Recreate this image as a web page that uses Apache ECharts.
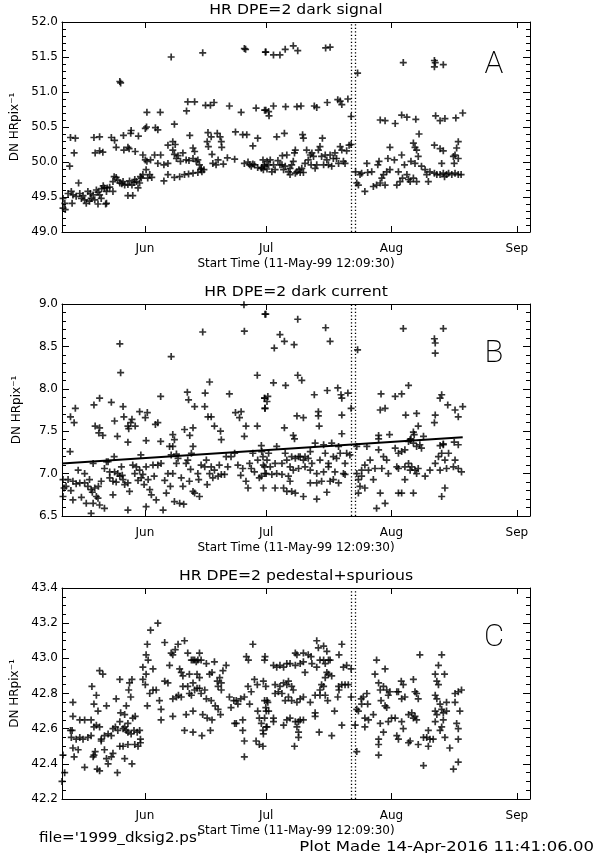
<!DOCTYPE html>
<html><head><meta charset="utf-8">
<script src="https://cdn.jsdelivr.net/npm/echarts@6/dist/echarts.min.js"></script>
<style>html,body{margin:0;padding:0;background:#fff}#c{width:597px;height:853px}</style>
</head><body><div id="c"></div>
<script>
// x values: days since 11-May-99 12:09:30
const monthTicks = [20.494, 50.494, 81.494, 112.494];
const monthLabels = ['Jun', 'Jul', 'Aug', 'Sep'];
const xMax = 115.74;
const gapLines = [71.494, 72.494];
const panelTitles = ['HR DPE=2 dark signal', 'HR DPE=2 dark current', 'HR DPE=2 pedestal+spurious'];
const panelLetters = ['A', 'B', 'C'];
const xTitle = 'Start Time (11-May-99 12:09:30)';
const yTitle = 'DN HRpix\u207B\u00B9';
const yMin = [49.0, 6.5, 42.2];
const yMax = [52.0, 9.0, 43.4];
const yStep = [0.5, 0.5, 0.2];
const yMinorStep = [0.1, 0.1, 0.05];
const footLeft = "file='1999_dksig2.ps'";
const footRight = 'Plot Made 14-Apr-2016 11:41:06.00';

const darkSignal = [
[27.0,51.50],[34.8,51.56],[45.1,51.62],[45.4,51.61],[50.3,51.57],[14.3,51.15],[14.5,51.13],
[21.0,50.71],[24.3,50.71],[30.8,50.73],[31.1,50.86],[32.8,50.86],[35.5,50.81],[36.7,50.81],[37.6,50.85],[41.4,50.80],[44.3,50.71],[48.0,50.77],[50.1,50.74],
[2.1,50.35],[3.3,50.34],[3.0,50.13],[1.9,49.94],[7.9,50.35],[9.3,50.36],[12.2,50.35],[13.0,50.31],[15.2,50.38],[17.1,50.45],[17.0,50.41],[18.9,50.37],[20.6,50.48],[20.9,50.50],[23.1,50.49],[23.7,50.46],[27.8,50.54],[31.6,50.38],[36.1,50.42],[36.9,50.36],[38.4,50.41],[39.1,50.36],[42.9,50.43],[44.7,50.39],[45.7,50.39],[48.4,50.34],[47.2,50.23],
[8.2,50.13],[9.3,50.16],[10.1,50.14],[13.4,50.21],[15.3,50.17],[16.3,50.21],[16.6,50.19],[18.1,50.15],[20.0,50.10],[20.6,50.03],[21.0,50.01],[21.9,50.03],[22.9,50.10],[23.7,49.98],[24.4,50.10],[25.2,49.96],[26.2,49.98],
[26.2,50.24],[27.4,50.29],[28.0,50.25],[27.4,50.17],[27.8,50.11],[28.3,50.05],[28.7,50.09],[29.3,50.01],[29.9,50.13],
[30.7,50.03],[31.4,50.02],[32.4,50.20],[32.8,50.15],[32.4,50.05],[33.2,50.01],[33.6,50.03],[34.0,49.96],[34.4,49.91],[34.6,49.86],[35.1,49.89],
[35.9,50.29],[36.2,50.22],[37.1,50.11],[37.3,49.98],[38.1,49.96],[38.6,50.03],[39.4,50.29],[39.5,50.21],[39.9,49.97],[40.9,50.06],
[42.7,50.04],[45.1,49.98],[46.4,49.96],[46.8,49.94],[47.6,49.96],[48.4,49.92],[49.3,49.91],[50.1,49.96],[50.7,50.01],[46.0,50.00],[47.2,49.97],[49.7,50.03],
[20.8,49.89],[21.7,49.82],[22.2,49.78],[21.2,49.77],[25.2,49.73],[26.2,49.82],[27.8,49.78],[29.1,49.79],[30.3,49.82],[31.3,49.83],[32.4,49.84],[33.6,49.85],[34.4,49.89],
[0.25,49.48],[0.7,49.41],[0.25,49.34],[0.8,49.32],[2.3,49.58],[2.7,49.53],[2.5,49.41],[4.1,49.70],
[3.5,49.51],[4.8,49.48],[5.6,49.46],[6.0,49.41],[7.2,49.48],[7.7,49.53],[8.1,49.46],[8.5,49.60],[8.9,49.57],[9.3,49.53],[9.7,49.48],[10.5,49.63],[11.0,49.58],[11.2,49.63],[11.0,49.41],
[6.8,49.44],[8.9,49.40],[10.8,49.40],
[12.6,49.72],[12.9,49.79],[13.4,49.78],[12.6,49.58],[14.3,49.70],[15.1,49.72],[15.5,49.67],[16.3,49.68],[16.7,49.73],[17.3,49.67],[18.0,49.75],[18.8,49.63],[19.2,49.70],
[16.3,49.52],[17.5,49.52],[19.6,49.77],[20.0,49.82],
[1.5,49.55],[4.4,49.55],[5.2,49.52],[6.4,49.58],[7.0,49.55],[9.8,49.62],[10.2,49.66],[11.8,49.64],[13.8,49.74],[14.8,49.69],[17.8,49.71],[18.4,49.72],[19.4,49.79],
[50.4,51.57],[52.3,51.53],[53.9,51.53],[55.2,51.61],[57.2,51.66],[58.3,51.59],[65.2,51.63],[66.3,51.64],[73.1,51.27],[84.4,51.42],[92.1,51.45],[92.3,51.42],[92.1,51.36],[94.3,51.39],
[50.4,50.74],[51.1,50.72],[51.2,50.66],[52.3,50.80],[55.3,50.79],[58.1,50.79],[59.1,50.80],[62.4,50.80],[63.0,50.78],[65.6,50.85],[68.2,50.89],[68.8,50.87],[69.2,50.82],[70.7,50.90],[71.5,50.65],[78.7,50.60],[79.9,50.59],[82.4,50.55],[84.0,50.67],[85.3,50.64],[87.5,50.61],[92.4,50.66],[93.5,50.59],[94.7,50.62],[97.4,50.63],[99.1,50.70],
[53.1,50.36],[55.0,50.41],[59.5,50.39],[59.7,50.34],[64.4,50.34],[71.5,50.25],[81.1,50.21],[88.3,50.40],[86.9,50.27],[87.3,50.21],[87.7,50.17],[92.1,50.24],[93.5,50.19],[94.3,50.16],[98.0,50.29],[97.6,50.20],
[49.4,49.92],[50.1,49.94],[50.7,49.90],[51.5,50.03],[51.1,49.96],[52.7,49.89],[53.4,50.02],[53.9,49.96],[54.5,50.09],[55.2,49.94],[55.6,50.10],[56.0,49.86],[56.4,49.91],[56.8,49.96],[57.2,50.01],[57.5,50.13],[57.7,50.17],[58.1,49.86],[58.6,49.89],[59.3,49.91],[59.7,49.85],[60.1,49.98],[60.5,50.17],[60.9,50.03],[61.4,50.10],[61.6,49.96],[61.8,50.13],[62.2,50.08],[62.6,49.91],[63.0,49.96],[63.4,50.17],[63.8,50.22],[64.2,50.08],[64.7,49.96],[65.1,50.10],[65.5,50.03],[65.9,49.96],[66.3,50.10],[66.7,49.94],[67.1,50.05],[67.5,50.13],[67.9,50.05],[68.4,49.98],[68.8,50.22],[69.2,50.17],[69.6,50.01],[70.0,49.98],[70.4,50.16],[71.0,50.24],
[49.8,49.89],[51.9,49.86],[54.8,49.89],[56.4,49.82],[57.7,49.84],[58.9,49.85],[54.4,49.96],[52.3,49.96],
[72.6,49.86],[72.9,49.70],[73.3,49.67],[73.7,49.82],[74.1,49.84],[74.9,49.58],[75.4,49.98],[75.6,49.85],[76.6,49.86],[77.0,49.65],[77.8,49.67],[78.1,49.96],[78.4,50.01],[78.7,49.70],[79.1,49.77],[79.5,49.82],[79.9,49.67],[80.3,49.86],[80.6,50.05],[81.1,49.89],[82.2,50.03],[82.8,49.67],[83.2,49.86],[83.6,49.72],[84.0,50.10],[84.2,49.77],[84.7,49.96],[85.3,49.82],[85.7,49.75],[86.1,49.72],[86.3,50.01],[86.9,49.77],[87.3,49.98],[87.7,49.72],[88.1,50.08],[88.9,49.94],[89.8,49.89],[90.2,49.82],[90.6,49.72],[91.0,49.86],[92.1,49.84],[92.7,49.82],[93.5,49.82],[93.9,49.98],[94.3,49.84],[94.6,49.79],[95.1,49.82],[95.6,49.84],[96.4,49.82],[97.2,49.84],[98.0,49.82],[98.7,49.82],[96.8,50.08],[97.2,50.10],[98.0,50.05],[97.0,49.98]
];

const darkCurrent = [
[14.3,8.53],[14.5,8.19],[27.0,8.38],[34.8,8.67],[45.1,8.68],[45.0,8.99],[50.2,8.88],[48.3,8.16],[36.5,8.08],[35.4,7.95],[41.4,7.94],[31.0,7.96],[31.3,7.87],[32.8,7.79],[35.3,7.79],[24.4,7.91],
[3.3,7.77],[2.1,7.67],[3.0,7.60],[7.9,7.81],[9.3,7.89],[12.2,7.84],[15.1,7.79],
[15.3,7.67],[16.3,7.56],[17.0,7.60],[17.3,7.64],[18.1,7.56],[19.2,7.73],[21.1,7.72],[20.6,7.66],
[8.2,7.56],[9.3,7.54],[9.1,7.48],[10.1,7.45],[13.0,7.62],[13.7,7.44],
[16.3,7.37],[16.5,7.53],[20.8,7.39],[23.1,7.58],[23.7,7.60],[24.4,7.38],
[27.4,7.46],[27.8,7.40],[27.4,7.32],[30.3,7.52],[32.4,7.54],[31.6,7.45],
[36.1,7.67],[36.9,7.67],[37.7,7.56],[39.2,7.50],[39.4,7.40],
[42.9,7.72],[43.9,7.66],[44.3,7.73],[45.5,7.56],[48.3,7.56],[45.1,7.44],[50.1,7.89],[50.2,7.77],[49.3,7.33],
[2.0,7.26],[32.4,7.32],[32.0,7.24],[26.6,7.32],[27.0,7.22],[28.3,7.23],
[0.25,6.93],[0.5,6.83],[0.25,6.73],[1.5,6.93],[2.7,6.91],[2.7,6.69],[4.0,7.04],[4.4,6.89],[5.6,7.00],[5.6,6.89],[6.0,6.65],[6.8,6.93],[7.2,6.81],[7.2,6.53],[8.1,6.83],[8.5,6.73],[8.9,6.71],[9.3,6.63],[7.7,6.65],[9.7,6.91],[10.5,7.06],[10.5,6.59],[11.0,7.14],[11.4,7.14],[11.8,7.02],[12.6,6.91],[12.6,6.75],[13.0,7.02],[13.8,7.00],[14.3,6.97],[14.7,7.08],[15.1,6.93],[15.5,6.87],[16.3,6.89],[16.3,6.57],[16.7,6.79],[17.5,7.10],[18.0,7.00],[18.4,7.08],[19.2,7.04],[19.6,6.95],[20.0,6.99],[20.3,6.87],[20.8,7.08],[21.3,6.93],[21.7,6.81],[20.8,6.61],[22.1,6.75],[22.5,7.10],[23.3,6.69],[23.7,7.10],[24.5,7.12],[25.0,6.57],[25.8,6.77],[26.2,7.00],[27.4,7.00],[27.8,6.67],[28.3,7.12],[28.7,7.18],[29.1,6.65],[29.9,6.85],[30.1,6.64],[30.7,7.12],[31.1,7.16],[31.5,6.91],[32.4,6.79],[32.8,6.77],[33.6,7.00],[33.8,6.93],[34.0,6.73],[34.4,7.10],[35.3,7.08],[35.7,7.16],[35.9,6.87],[36.5,7.00],[36.9,7.08],[37.7,7.04],[38.6,6.97],[39.4,6.99],[40.2,6.99],[41.0,7.08],[41.8,7.20],[42.7,7.24],[44.7,7.06],[45.5,6.91],[46.0,6.83],[46.8,7.06],[47.6,7.02],[48.4,7.16],[49.7,7.20],[50.1,7.08],[49.3,6.97],[47.2,7.24],[50.5,7.00],
[1.0,6.85],[2.2,6.80],[3.5,6.88],[4.8,6.72],[6.4,6.85],[7.5,6.78],[9.0,6.85],[11.8,6.95],[13.4,6.90],[14.9,6.98],[18.8,6.92],[22.8,6.97],[25.4,6.92],[26.8,6.85],[29.5,6.95],[31.8,7.05],[37.3,6.95],[38.9,7.10],[40.6,7.20],[43.5,7.10],[44.2,6.98],[46.4,7.12],[48.8,6.95],[7.7,7.12],[12.9,7.20],[19.5,7.22],
[50.4,8.88],[58.3,8.82],[65.2,8.72],[53.9,8.64],[55.0,8.56],[52.5,8.48],[57.4,8.52],[66.3,8.56],[73.1,8.46],[84.4,8.71],[94.3,8.71],[92.1,8.59],[92.3,8.54],[92.3,8.42],
[58.3,8.16],[59.3,8.10],[52.3,8.07],[55.3,8.04],[50.1,7.89],[50.9,7.91],[50.7,7.85],[50.2,7.77],[85.7,8.04],
[65.6,7.98],[68.2,8.01],[69.0,7.93],[69.2,7.89],[70.7,7.95],[62.4,7.93],[78.9,7.94],[82.4,7.91],[84.0,7.94],[78.7,7.75],[79.9,7.77],
[93.9,7.93],[93.5,7.89],[95.4,7.81],[97.2,7.75],[99.1,7.79],[98.0,7.67],[71.5,7.77],
[58.1,7.68],[59.7,7.66],[63.4,7.73],[63.4,7.68],[69.2,7.69],[63.6,7.56],
[85.0,7.69],[87.7,7.71],[88.1,7.56],[92.3,7.69],[92.1,7.60],
[55.0,7.54],[57.2,7.45],[57.5,7.41],[69.2,7.47],[78.3,7.45],[78.3,7.41],[81.0,7.46],
[86.9,7.49],[87.1,7.46],[89.4,7.44],[86.3,7.41],[97.0,7.37],[98.0,7.34],[94.3,7.35],[93.5,7.33],
[49.4,7.26],[51.1,7.24],[53.1,7.32],[55.2,7.24],[56.8,7.20],[58.5,7.20],[60.1,7.20],[61.4,7.26],[62.6,7.36],[64.7,7.34],[66.7,7.36],[68.4,7.32],[70.4,7.24],[71.2,7.22],[49.8,7.10],[50.7,7.16],[51.5,7.08],[52.7,7.12],[54.4,7.12],[55.6,7.16],[56.4,7.08],[57.7,7.18],[58.9,7.20],[59.7,7.16],[60.9,7.18],[61.8,7.12],[63.8,7.16],[65.1,7.24],[65.9,7.12],[67.1,7.20],[67.9,7.18],[68.8,7.24],[70.0,7.12],[50.2,7.00],[51.9,6.99],[53.1,7.00],[54.4,6.99],[56.0,6.97],[57.2,7.04],[58.5,7.06],[60.1,7.08],[61.4,7.04],[63.0,7.00],[64.7,7.02],[65.9,7.08],[67.5,7.02],[69.6,7.00],[52.7,6.83],[54.8,6.83],[56.4,6.91],[56.8,6.79],[57.7,6.77],[59.7,6.73],[61.4,6.89],[63.0,6.89],[63.0,6.70],[64.2,6.91],[65.5,6.78],[66.3,6.91],[67.1,6.93],[68.4,6.89],[70.0,6.99],[49.8,6.83],[55.6,6.79],
[72.9,7.32],[75.4,7.32],[72.9,7.00],[73.3,6.93],[74.1,7.04],[74.9,7.10],[73.7,6.85],[74.9,6.83],[76.2,7.16],[77.0,6.93],[78.3,7.28],[78.7,6.77],[77.8,6.59],[79.9,6.65],[79.1,7.06],[80.3,7.16],[80.7,7.00],[82.4,7.30],[82.8,7.08],[83.2,7.24],[84.0,7.26],[84.8,7.28],[85.7,7.38],[86.1,7.40],[86.9,7.36],[87.7,7.32],[88.5,7.34],[88.9,7.30],[83.2,6.77],[84.0,6.77],[84.8,6.93],[86.9,6.77],[85.7,7.12],[86.5,7.08],[87.3,7.04],[88.1,7.06],[89.8,6.97],[91.0,7.04],[92.3,7.12],[93.1,7.20],[93.9,7.24],[94.7,7.16],[95.6,7.24],[96.8,7.08],[97.2,7.16],[98.0,7.06],[98.8,7.02],[94.3,7.34],[93.9,6.73],[94.7,6.83],[93.5,7.04],[95.1,7.06],[86.1,7.04],[87.7,7.00],[84.8,7.08],[83.2,7.06],[79.5,7.20],[77.4,7.06],[75.8,7.04],[74.1,6.97],[73.3,6.77]
];

const pedestal = [
[0.25,42.45],[0.0,42.30],[0.66,42.35],
[2.7,42.75],[2.7,42.67],[2.1,42.59],[2.5,42.59],[2.7,42.49],[3.0,42.44],
[4.4,42.65],[5.6,42.65],[7.2,42.65],[7.4,42.84],[7.9,42.74],[8.5,42.79],[8.9,42.70],[11.0,42.73],[13.4,42.77],[14.3,42.88],[14.5,42.69],[15.5,42.68],[16.7,42.86],[16.5,42.82],[17.0,42.78],[17.3,42.88],[15.9,42.73],[16.3,42.63],[17.5,42.66],[18.1,42.67],
[2.3,42.55],[3.5,42.54],[4.4,42.55],[5.2,42.54],[6.4,42.55],[7.2,42.56],[7.9,42.61],[8.5,42.62],[9.3,42.61],[9.7,42.54],[10.5,42.56],[11.4,42.57],[12.2,42.56],[12.6,42.60],[13.2,42.61],[13.8,42.59],[14.3,42.64],[15.1,42.60],[15.5,42.61],[15.9,42.59],[16.3,42.58],[17.1,42.57],[17.8,42.59],[18.6,42.58],[19.2,42.59],[19.4,42.54],
[4.0,42.48],[5.6,42.38],[7.7,42.44],[7.9,42.45],[8.2,42.47],[8.7,42.37],[9.3,42.36],[9.7,42.53],[10.5,42.48],[11.0,42.43],[11.4,42.40],[12.2,42.44],[12.6,42.46],[13.7,42.35],[14.3,42.50],[15.1,42.50],[15.5,42.43],[16.3,42.51],[17.3,42.40],[18.0,42.51],[18.8,42.50],[19.4,42.52],
[9.3,42.93],[10.1,42.91],
[20.0,42.95],[20.0,42.88],[20.6,42.85],[20.8,42.91],[20.8,43.02],[21.1,43.08],[21.3,42.99],[21.9,43.16],[22.5,42.94],[23.7,43.20],[25.4,43.09],
[21.1,42.73],[21.7,42.80],[22.5,42.82],[23.3,42.82],[24.1,42.76],[24.5,42.71],[24.5,42.65],[25.4,42.87],[26.2,42.86],[26.6,42.96],[27.0,43.03],[27.4,43.02],[28.0,43.05],[28.7,43.08],[29.1,42.94],[29.5,42.92],[29.9,42.90],[30.3,43.10],[31.1,43.03],[31.5,42.91],[32.0,42.99],[32.4,42.99],[32.8,42.99],[33.2,42.98],[33.6,42.99],[34.0,43.03],[34.4,42.99],[33.4,42.91],[34.0,42.89],[35.7,42.97],[36.5,42.91],[37.1,42.92],[37.7,42.98],[38.4,42.87],[39.0,42.89],[39.4,42.86],[39.8,42.93],[40.6,42.96],[38.6,42.84],[39.4,42.82],
[27.4,42.77],[28.3,42.78],[28.8,42.79],[29.5,42.78],[29.9,42.84],[31.1,42.84],[31.5,42.80],[32.0,42.79],[32.4,42.86],[32.8,42.82],[33.4,42.83],[34.0,42.83],[34.4,42.80],[35.3,42.82],[35.7,42.77],[36.9,42.76],[37.9,42.73],[38.6,42.71],[39.2,42.68],
[27.4,42.67],[30.3,42.59],[30.7,42.68],[32.4,42.70],[32.4,42.58],[34.6,42.56],[34.8,42.68],[35.9,42.66],[36.7,42.59],[37.1,42.65],
[41.4,42.78],[41.8,42.72],[43.1,42.76],[43.5,42.74],[42.7,42.63],[43.1,42.63],[44.7,42.65],[44.7,42.59],[45.1,42.53],[45.1,42.44],[45.1,42.78],[46.4,42.74],[46.8,42.81],[46.0,42.84],[45.6,43.01],[46.1,42.99],[47.2,43.08],[47.6,42.88],[48.3,42.85],[48.4,42.70],[48.8,42.66],[49.3,42.63],[49.7,42.59],[48.8,42.51],[50.1,42.99],[50.1,42.76],[50.5,42.70],[50.5,42.61],
[42.5,42.76],[44.2,42.77],[48.0,42.53],
[50.2,43.01],[49.8,42.87],[50.4,42.84],[50.7,42.76],[50.4,42.72],[51.1,42.70],[50.1,42.66],[50.7,42.61],[49.8,42.57],[49.7,42.50],[50.9,42.75],
[52.3,42.96],[53.1,42.95],[53.9,42.96],[54.8,42.95],[55.6,42.97],[56.4,42.97],[57.7,42.96],[58.9,42.97],[59.7,42.98],[57.7,43.03],[58.1,43.02],[59.7,43.03],[60.9,43.02],[61.6,43.01],[63.0,43.10],[63.4,43.06],[64.7,43.07],[65.5,43.04],[63.8,42.99],[64.7,42.99],[65.9,42.99],[66.3,42.99],[69.2,43.08],[68.5,43.02],[69.6,42.95],[70.4,42.96],[71.5,42.94],[60.1,42.92],[61.8,42.97],[63.0,42.95],[65.1,42.97],
[52.7,42.85],[53.9,42.84],[54.8,42.86],[56.0,42.87],[55.6,42.85],[56.8,42.84],[57.2,42.82],[52.7,42.80],[53.5,42.81],[54.4,42.80],[55.2,42.76],[56.0,42.78],[56.8,42.76],[58.1,42.75],[58.9,42.77],[59.7,42.78],[61.4,42.75],[62.6,42.79],[63.8,42.82],[64.2,42.85],[64.7,42.84],[65.1,42.89],[65.5,42.92],[65.9,42.91],[66.7,42.90],[63.8,42.79],[65.1,42.79],[65.7,42.76],[68.4,42.84],[68.5,42.82],[69.2,42.85],[70.0,42.85],[70.8,42.85],[68.2,42.78],[71.5,42.78],
[52.3,42.66],[52.3,42.64],[54.8,42.62],[55.6,42.65],[56.4,42.66],[57.7,42.64],[58.5,42.64],[58.9,42.65],[59.7,42.65],[58.1,42.61],[58.5,42.58],[58.5,42.55],[57.5,42.50],[62.6,42.69],[62.6,42.67],[63.6,42.58],[66.7,42.56],[67.4,42.70],[69.2,42.62],
[72.9,42.71],[73.3,42.70],[72.5,42.62],[72.9,42.47],[74.0,42.77],[74.5,42.78],[75.4,42.80],[74.1,42.74],[75.6,42.74],[74.9,42.66],[75.8,42.65],[74.9,42.61],[77.0,42.68],[77.4,42.91],[77.8,42.99],[78.3,42.86],[78.7,42.82],[78.9,42.76],[79.5,42.84],[79.9,42.94],[80.3,42.82],[80.7,42.79],[81.1,42.81],[79.9,42.73],[80.3,42.72],[80.7,42.64],[78.7,42.63],[78.3,42.54],[78.3,42.51],[78.3,42.45],[79.5,42.58],[81.5,42.66],[82.4,42.66],[82.8,42.56],[83.2,42.54],[82.8,42.81],[83.2,42.81],[83.9,42.87],[84.4,42.85],[84.0,42.77],[84.8,42.78],[86.9,42.88],[87.3,42.81],[87.7,42.80],[88.1,42.77],[85.7,42.68],[86.5,42.69],[86.9,42.66],[87.3,42.67],[87.7,42.65],[84.0,42.64],[84.4,42.60],[85.7,42.52],[86.1,42.53],[88.1,42.51],[89.4,42.55],[90.2,42.55],[90.6,42.59],[90.6,42.50],[91.0,42.54],[91.8,42.54],[92.3,42.79],[92.7,42.77],[93.1,42.85],[93.5,42.74],[93.9,42.71],[94.3,42.69],[95.1,42.70],[94.3,42.65],[93.5,42.59],[93.9,42.61],[94.7,42.55],[95.9,42.49],[92.3,42.70],[92.7,42.68],[88.5,43.02],[93.9,43.02],[93.1,42.96],[92.3,42.91],[92.7,42.87],[94.6,42.91],[97.2,42.80],[98.0,42.81],[98.8,42.82],[97.2,42.75],[98.4,42.70],[97.6,42.63],[98.0,42.60],[98.0,42.54],[89.4,42.39],[96.8,42.37],[98.0,42.41],[92.3,42.64],[95.1,42.75]
];

const currentFit = [[0, 7.12], [99.1, 7.43]];

const panelData = [darkSignal, darkCurrent, pedestal];
const gridBoxes = [
  {left: 62, top: 22, width: 468, height: 210},
  {left: 62, top: 304, width: 468, height: 212},
  {left: 62, top: 588, width: 468, height: 211}
];
const FONT = 'DejaVu Sans';
const plusSymbol = 'path://M5,0V10M0,5H10';

function nearestMonth(v) {
  let best = 0;
  for (let i = 1; i < monthTicks.length; i++) {
    if (Math.abs(monthTicks[i] - v) < Math.abs(monthTicks[best] - v)) best = i;
  }
  return monthLabels[best];
}

const xAxes = [], yAxes = [], series = [], graphics = [];
for (let i = 0; i < 3; i++) {
  ['bottom', 'top'].forEach(function (pos) {
    xAxes.push({
      type: 'value', gridIndex: i, position: pos, min: 0, max: xMax,
      axisLine: {show: true, onZero: false, lineStyle: {color: '#000', width: 1}},
      axisTick: {show: true, inside: true, length: 6, customValues: monthTicks, lineStyle: {color: '#000', width: 1}},
      axisLabel: {show: pos === 'bottom', customValues: monthTicks, formatter: nearestMonth,
        color: '#000', fontFamily: FONT, fontSize: 12, margin: 11},
      splitLine: {show: false},
      name: pos === 'bottom' ? xTitle : '', nameLocation: 'middle', nameGap: 26,
      nameTextStyle: {color: '#000', fontFamily: FONT, fontSize: 12}
    });
  });
  // major-tick axes (index 4i: left, 4i+1: right)
  ['left', 'right'].forEach(function (pos) {
    yAxes.push({
      type: 'value', gridIndex: i, position: pos, min: yMin[i], max: yMax[i], interval: yStep[i],
      axisLine: {show: true, onZero: false, lineStyle: {color: '#000', width: 1}},
      axisTick: {show: true, inside: true, length: 7, lineStyle: {color: '#000', width: 1}},
      axisLabel: {show: pos === 'left', formatter: function (v) { return v.toFixed(1); },
        color: '#000', fontFamily: FONT, fontSize: 12, margin: 4},
      splitLine: {show: false},
      name: pos === 'left' ? yTitle : '', nameLocation: 'middle', nameGap: 39,
      nameTextStyle: {color: '#000', fontFamily: FONT, fontSize: 12}
    });
  });
  // minor-tick axes (index 4i+2: left, 4i+3: right)
  ['left', 'right'].forEach(function (pos) {
    yAxes.push({
      type: 'value', gridIndex: i, position: pos, min: yMin[i], max: yMax[i], interval: yMinorStep[i],
      axisLine: {show: false, onZero: false},
      axisTick: {show: true, inside: true, length: 4, lineStyle: {color: '#000', width: 1}},
      axisLabel: {show: false},
      splitLine: {show: false}
    });
  });
}
for (let i = 0; i < 3; i++) {
  series.push({
    type: 'scatter', xAxisIndex: 2 * i, yAxisIndex: 4 * i, data: panelData[i],
    symbol: plusSymbol, symbolSize: 7, silent: true,
    itemStyle: {color: 'rgba(0,0,0,0)', borderColor: '#000', borderWidth: 1.7},
    markLine: {
      silent: true, symbol: ['none', 'none'], label: {show: false},
      lineStyle: {color: '#000', type: [1.3, 2.2], width: 1.3},
      data: gapLines.map(function (g) { return {xAxis: g}; })
    }
  });
  const b = gridBoxes[i];
  graphics.push({type: 'text', x: 296, y: b.top - 12, scaleX: 1.08, style: {text: panelTitles[i], fill: '#000',
    font: '14.5px "DejaVu Sans"', textAlign: 'center', textVerticalAlign: 'middle'}});
  graphics.push({type: 'text', x: 494, y: b.top + 43 + (i === 0 ? 0 : 7), style: {text: panelLetters[i], fill: '#000',
    font: '200 31px Roboto, "Open Sans", "DejaVu Sans"', textAlign: 'center', textVerticalAlign: 'middle'}});
}
series.push({
  type: 'line', xAxisIndex: 2, yAxisIndex: 4, data: currentFit, showSymbol: false, silent: true,
  lineStyle: {color: '#000', width: 2}
});
graphics.push({type: 'text', x: 39, y: 838, scaleX: 1.12, style: {text: footLeft, fill: '#000',
  font: '13.5px "DejaVu Sans"', textAlign: 'left', textVerticalAlign: 'middle'}});
graphics.push({type: 'text', x: 594, y: 847, scaleX: 1.14, style: {text: footRight, fill: '#000',
  font: '14.5px "DejaVu Sans"', textAlign: 'right', textVerticalAlign: 'middle'}});

const chart = echarts.init(document.getElementById('c'), null, {renderer: 'canvas'});
chart.setOption({
  animation: false,
  backgroundColor: '#fff',
  grid: gridBoxes,
  xAxis: xAxes,
  yAxis: yAxes,
  series: series,
  graphic: graphics
});
</script></body></html>
